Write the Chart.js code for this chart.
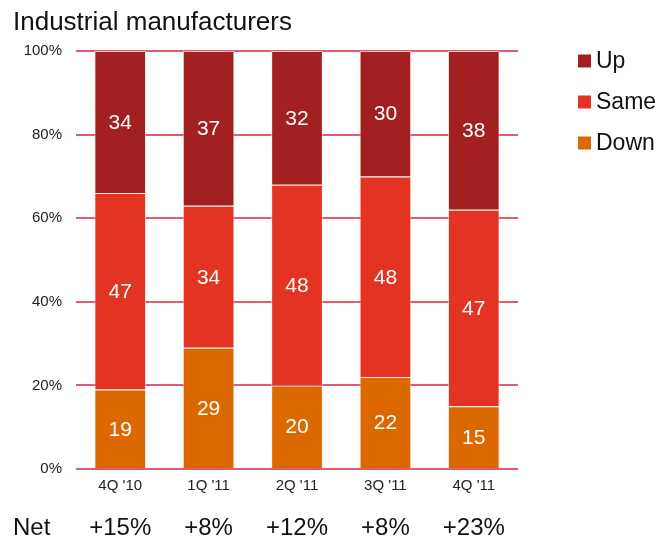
<!DOCTYPE html>
<html>
<head>
<meta charset="utf-8">
<script src="https://cdn.jsdelivr.net/npm/chart.js@4/dist/chart.umd.min.js"></script>
<style>
  html, body { margin: 0; padding: 0; background: #fff; }
  #wrap { width: 670px; height: 544px; position: relative; }
</style>
</head>
<body>
<div id="wrap"><canvas id="c" width="670" height="544"></canvas></div>
<script>
const titleText = 'Industrial manufacturers';
const categories = ["4Q '10", "1Q '11", "2Q '11", "3Q '11", "4Q '11"];
const downValues = [19, 29, 20, 22, 15];
const sameValues = [47, 34, 48, 48, 47];
const upValues = [34, 37, 32, 30, 38];
const netLabels = ['+15%', '+8%', '+12%', '+8%', '+23%'];
const netTitle = 'Net';
const yTicks = [0, 20, 40, 60, 80, 100];

const FONT = '"Liberation Sans", Arial, sans-serif';

const overlay = {
  id: 'overlay',
  afterDatasetsDraw(chart) {
    const ctx = chart.ctx;
    ctx.save();
    ctx.fillStyle = '#ffffff';
    ctx.font = '21px ' + FONT;
    ctx.textAlign = 'center';
    ctx.textBaseline = 'middle';
    chart.data.datasets.forEach((ds, di) => {
      const meta = chart.getDatasetMeta(di);
      meta.data.forEach((bar, i) => {
        const p = bar.getProps(['x', 'y', 'base'], true);
        ctx.fillText(String(ds.data[i]), p.x, (p.y + p.base) / 2 + 1);
      });
    });
    ctx.restore();
  },
  afterDraw(chart) {
    const ctx = chart.ctx;
    ctx.save();
    ctx.fillStyle = '#111';
    ctx.font = '26px ' + FONT;
    ctx.textAlign = 'left';
    ctx.textBaseline = 'alphabetic';
    ctx.fillText(titleText, 13, 30);
    const dsRev = chart.data.datasets.slice().reverse();
    ctx.font = '23px ' + FONT;
    ctx.textBaseline = 'middle';
    dsRev.forEach((ds, k) => {
      const cy = 61 + k * 41;
      ctx.fillStyle = ds.backgroundColor;
      ctx.fillRect(578, cy - 6.5, 13, 13);
      ctx.fillStyle = '#111';
      ctx.fillText(ds.label, 596, cy + 1);
    });
    const xs = chart.scales.x;
    ctx.font = '24px ' + FONT;
    ctx.fillStyle = '#111';
    ctx.textAlign = 'left';
    ctx.fillText(netTitle, 13, 528);
    ctx.textAlign = 'center';
    netLabels.forEach((t, i) => {
      ctx.fillText(t, xs.getPixelForValue(i), 528);
    });
    ctx.restore();
  }
};

new Chart(document.getElementById('c'), {
  type: 'bar',
  data: {
    labels: categories,
    datasets: [
      { label: 'Down', data: downValues, backgroundColor: '#dc6900', borderColor: 'rgba(255,230,220,0.7)', borderWidth: 1 },
      { label: 'Same', data: sameValues, backgroundColor: '#e33322', borderColor: 'rgba(255,230,220,0.7)', borderWidth: 1 },
      { label: 'Up', data: upValues, backgroundColor: '#a32020', borderColor: 'rgba(255,230,220,0.7)', borderWidth: 1 }
    ]
  },
  options: {
    responsive: false,
    animation: false,
    devicePixelRatio: 1,
    layout: { padding: { left: 0, top: 51, right: 152, bottom: 0 } },
    plugins: { legend: { display: false }, tooltip: { enabled: false }, title: { display: false } },
    datasets: { bar: { categoryPercentage: 1.0, barPercentage: 0.585 } },
    scales: {
      x: {
        stacked: true,
        grid: { display: false, drawTicks: false },
        border: { display: false },
        ticks: { color: '#222', font: { family: FONT, size: 15 }, padding: 8, maxRotation: 0 },
        afterFit(s) { s.height = 75; }
      },
      y: {
        stacked: true,
        min: 0, max: 100,
        afterBuildTicks(s) { s.ticks = yTicks.map(v => ({ value: v })); },
        grid: { color: '#e05c74', lineWidth: 2, drawTicks: false },
        border: { display: false },
        ticks: { color: '#222', font: { family: FONT, size: 15 }, padding: 14, callback: v => v + '%' },
        afterFit(s) { s.width = 76; }
      }
    }
  },
  plugins: [overlay]
});
</script>
</body>
</html>
